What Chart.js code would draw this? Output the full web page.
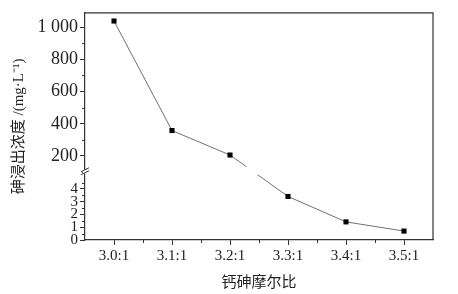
<!DOCTYPE html>
<html><head><meta charset="utf-8">
<script src="https://cdn.jsdelivr.net/npm/chart.js@4/dist/chart.umd.min.js"></script>
<style>html,body{margin:0;padding:0;background:#fff}#wrap{width:458px;height:294px}</style>
</head><body><div id="wrap"><canvas id="c"></canvas></div>
<script>
const categories = ['3.0:1','3.1:1','3.2:1','3.3:1','3.4:1','3.5:1'];
const concentration = [1038, 358, 206, 3.41, 1.42, 0.7];
const yTickValues = [0, 1, 2, 3, 4, 200, 400, 600, 800, 1000];
const yTickLabels = ['0', '1', '2', '3', '4', '200', '400', '600', '800', '1 000'];
const yMinorValues = [0.5, 1.5, 2.5, 3.5, 4.5, 100, 300, 500, 700, 900];

const BREAK_LOW = 5.27, BREAK_HIGH = 96, TOP = 1089, FRAC = 0.296;

class BrokenScale extends Chart.LinearScale {
  getPixelForValue(v) {
    if (v === null || v === undefined || isNaN(v)) return NaN;
    let d;
    if (v <= BREAK_LOW) d = v / BREAK_LOW * FRAC;
    else if (v >= BREAK_HIGH) d = FRAC + (v - BREAK_HIGH) / (TOP - BREAK_HIGH) * (1 - FRAC);
    else d = FRAC;
    return this.getPixelForDecimal(d);
  }
  getValueForPixel(p) {
    const d = this.getDecimalForPixel(p);
    if (d <= FRAC) return d / FRAC * BREAK_LOW;
    return BREAK_HIGH + (d - FRAC) / (1 - FRAC) * (TOP - BREAK_HIGH);
  }
}
BrokenScale.id = 'broken';
BrokenScale.defaults = Chart.LinearScale.defaults;
Chart.register(BrokenScale);

const frameColor = '#333';

const decor = {
  id: 'decor',
  afterDatasetsDraw(chart) {
    const ctx = chart.ctx, a = chart.chartArea;
    const y = chart.scales.y, x = chart.scales.x;
    const yb = y.getPixelForValue(BREAK_LOW);
    ctx.save();
    // gap in line at the break
    ctx.fillStyle = '#fff';
    ctx.fillRect(a.left + 1, yb - 6, a.right - a.left - 2, 8);
    // frame
    ctx.strokeStyle = frameColor;
    ctx.lineWidth = 1.2;
    ctx.beginPath();
    ctx.moveTo(a.left, a.top); ctx.lineTo(a.right, a.top); ctx.lineTo(a.right, a.bottom);
    ctx.stroke();
    // minor y ticks
    ctx.lineWidth = 1;
    ctx.beginPath();
    yMinorValues.forEach(v => {
      const py = Math.round(y.getPixelForValue(v)) + 0.5;
      ctx.moveTo(a.left - 3, py); ctx.lineTo(a.left, py);
    });
    // minor x ticks
    for (let i = 0; i < categories.length - 1; i++) {
      const px = Math.round((x.getPixelForValue(i) + x.getPixelForValue(i + 1)) / 2) + 0.5;
      ctx.moveTo(px, a.bottom); ctx.lineTo(px, a.bottom + 3);
    }
    ctx.stroke();
    // axis break marks
    ctx.fillStyle = '#fff';
    ctx.fillRect(a.left - 2, yb - 3, 5, 4);
    ctx.beginPath();
    ctx.moveTo(a.left - 4, yb - 1); ctx.lineTo(a.left + 4, yb - 5);
    ctx.moveTo(a.left - 4, yb + 2); ctx.lineTo(a.left + 4, yb - 2);
    ctx.stroke();
    ctx.restore();
  }
};

new Chart(document.getElementById('c'), {
  type: 'line',
  data: {
    labels: categories,
    datasets: [{
      data: concentration,
      borderColor: '#707070',
      borderWidth: 1,
      pointStyle: 'rect',
      pointRadius: 3.6,
      pointBackgroundColor: '#000',
      pointBorderColor: '#000',
      pointBorderWidth: 0,
      tension: 0,
      clip: false
    }]
  },
  options: {
    responsive: true,
    maintainAspectRatio: false,
    animation: false,
    layout: { padding: { left: 0, top: 10, right: 25, bottom: 0 } },
    plugins: { legend: { display: false }, tooltip: { enabled: false } },
    scales: {
      x: {
        type: 'category',
        offset: true,
        afterFit(s) { s.height = 54; },
        grid: { drawOnChartArea: false, drawTicks: true, tickLength: 5, color: frameColor, offset: false },
        border: { color: frameColor, width: 1.2 },
        ticks: { color: '#222', padding: 2, font: { family: 'Liberation Serif', size: 15 } },
        title: { display: true, text: '钙砷摩尔比', color: '#222', padding: { top: 2 },
          font: { family: 'Noto Sans CJK SC', size: 15 } }
      },
      y: {
        type: 'broken',
        min: 0,
        max: TOP,
        afterFit(s) { s.width = 85; },
        afterBuildTicks(s) { s.ticks = yTickValues.map(v => ({ value: v })); },
        grid: { drawOnChartArea: false, drawTicks: true, tickLength: 5, color: frameColor },
        border: { color: frameColor, width: 1.2 },
        ticks: {
          color: '#222', padding: 2,
          callback(v) { const i = yTickValues.indexOf(v); return i >= 0 ? yTickLabels[i] : ''; },
          font(ctx) { return { family: 'Liberation Serif', size: ctx.tick && ctx.tick.value > 100 ? 18 : 15 }; }
        },
        title: { display: true, text: '砷浸出浓度 /(mg·L⁻¹)', color: '#222', padding: { top: 10, bottom: 0 },
          font: { family: 'Liberation Serif, Noto Sans CJK SC', size: 15 } }
      }
    }
  },
  plugins: [decor]
});
</script></body></html>
